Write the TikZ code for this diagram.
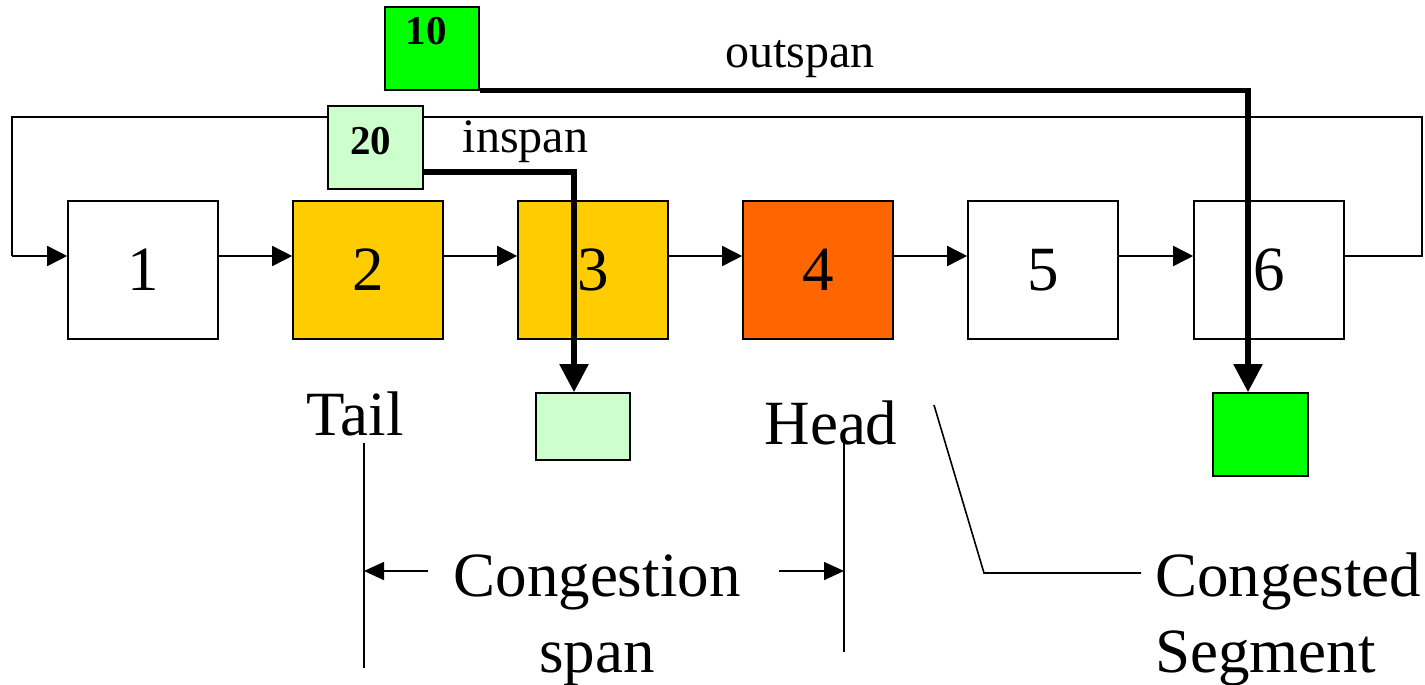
\documentclass[tikz,border=0pt]{standalone}
\usepackage{fontspec}
\setmainfont{Liberation Serif}
\usetikzlibrary{arrows.meta}
\definecolor{cyel}{HTML}{FFCC00}
\definecolor{corg}{HTML}{FF6600}
\definecolor{cgrn}{HTML}{00FF00}
\definecolor{clgr}{HTML}{CCFFCC}
\begin{document}
\begin{tikzpicture}[x=0.5pt,y=-0.5pt,
  seg/.style={draw,line width=0.8pt,minimum width=75pt,minimum height=69pt,inner sep=0pt,font=\fontsize{31.5}{36}\selectfont},
  flag/.style={draw,line width=0.8pt,inner sep=0pt},
  bignum/.style={font=\fontsize{20.5}{24}\selectfont\bfseries},
  thinl/.style={line width=0.8pt},
  thinarrow/.style={thinl,-{Triangle[length=10pt,width=10pt]}},
  dimarrow/.style={thinl,-{Triangle[length=10pt,width=9pt]}},
  thickarrow/.style={line width=2.6pt,-{Triangle[length=14pt,width=14pt]}},
  biglabel/.style={font=\fontsize{31.5}{38}\selectfont,inner sep=0pt},
  smalllabel/.style={font=\fontsize{24}{28}\selectfont,inner sep=0pt}]
\useasboundingbox (0,0) rectangle (1425,685);

% loop line (behind everything)
\coordinate (lr) at (1422,256);
\coordinate (ltr) at (1422,117);
\coordinate (ltl) at (12,117);
\coordinate (ll) at (12,256);

% segments
\node[seg] (n1) at (143,270) {1};
\node[seg,fill=cyel] (n2) at (368,270) {2};
\node[seg,fill=cyel] (n3) at (593,270) {3};
\node[seg,fill=corg] (n4) at (818,270) {4};
\node[seg] (n5) at (1043,270) {5};
\node[seg] (n6) at (1269,270) {6};

\draw[thinl] ([yshift=7pt]n6.east) -- (lr) -- (ltr) -- (ltl) -- (ll);
\draw[thinarrow] (ll) -- ([yshift=7pt]n1.west);

\foreach \a/\b in {n1/n2,n2/n3,n3/n4,n4/n5,n5/n6}
  \draw[thinarrow] ([yshift=7pt]\a.east) -- ([yshift=7pt]\b.west);

% flags
\node[flag,fill=cgrn,minimum width=47pt,minimum height=41.5pt,
  label={[anchor=north,inner sep=0pt,yshift=-5.5pt,xshift=-3pt,bignum]north:10}] (b10) at (432,48.5) {};
\node[flag,fill=clgr,minimum width=47.5pt,minimum height=41.5pt,
  label={[anchor=north,inner sep=0pt,yshift=-11pt,xshift=-2.5pt,bignum]north:20}] (b20) at (375.5,147.5) {};

\node[flag,fill=clgr,minimum width=47pt,minimum height=33.5pt] (g3) at (583,426.5) {};
\node[flag,fill=cgrn,minimum width=47.5pt,minimum height=41.5pt] (g6) at (1260.5,434.5) {};

\draw[thickarrow] ([yshift=-12.25pt]b20.east) -| ([xshift=-4.5pt]g3.north);
\draw[thickarrow] (b10.south east) -| ([xshift=-6.25pt]g6.north);

% labels
\node[smalllabel,anchor=base] (lout) at (800,68) {outspan};
\node[smalllabel,anchor=base] (lin) at (525.5,152) {inspan};
\node[biglabel,anchor=base] (tail) at (355,435) {Tail};
\node[biglabel,anchor=base] (head) at (831,444) {Head};
\node[biglabel,anchor=base,align=center] (cspan) at (597,672) {Congestion\\span};
\node[biglabel,anchor=base west,align=left] (cseg) at (1155,672) {Congested\\Segment};

% dimension lines
\coordinate (t1) at (364,443);
\coordinate (t2) at (364,668);
\coordinate (h1) at (844,443);
\coordinate (h2) at (844,652);
\draw[thinl] (t1) -- (t2);
\draw[thinl] (h1) -- (h2);
\coordinate (al) at (428,571);
\coordinate (ar) at (779,571);
\draw[dimarrow] (al) -- (t1 |- al);
\draw[dimarrow] (ar) -- (h1 |- ar);

% leader
\coordinate (ld1) at (934,405);
\coordinate (ld2) at (984,573);
\coordinate (ld3) at (1141,573);
\draw[thinl] (ld1) -- (ld2) -- (ld3);
\end{tikzpicture}
\end{document}
